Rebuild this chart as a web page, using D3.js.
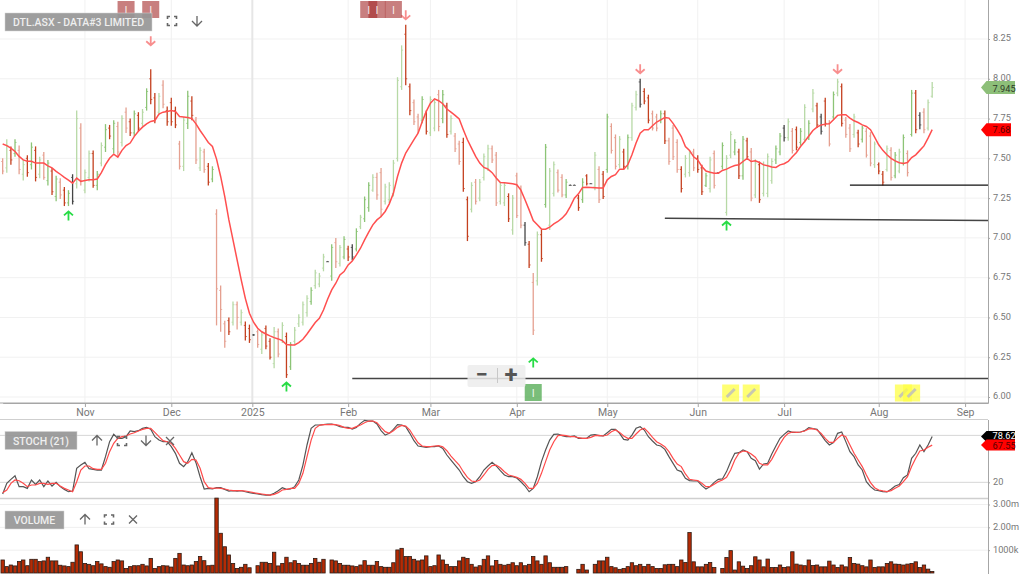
<!DOCTYPE html>
<html>
<head>
<meta charset="utf-8">
<script src="https://cdn.jsdelivr.net/npm/d3@7"></script>
<style>
  html, body { margin: 0; padding: 0; background: #fff; overflow: hidden; }
  svg { display: block; font-family: Roboto, Arial, sans-serif; }
</style>
</head>
<body>
<div id="chart"></div>
<script>
// one entry per trading day
const highs = [
  7.50,7.62,7.575,7.62,7.58,7.49,7.52,7.60,7.575,7.51,
  7.54,7.49,7.44,7.39,7.375,7.32,7.30,7.40,7.80,7.72,
  7.43,7.55,7.55,7.42,7.60,7.715,7.71,7.74,7.73,7.77,
  7.82,7.75,7.80,7.79,7.81,7.94,8.06,7.91,7.91,7.99,
  7.825,7.88,7.825,7.61,7.76,7.925,7.89,7.76,7.57,7.56,
  7.47,7.45,7.18,6.70,6.48,6.50,6.60,6.60,6.55,6.475,
  6.455,6.395,6.425,6.41,6.45,6.37,6.44,6.43,6.47,6.405,
  6.345,6.44,6.52,6.60,6.64,6.69,6.80,6.78,6.90,6.855,
  6.96,7.00,6.955,7.01,6.95,6.96,7.06,7.145,7.26,7.35,
  7.40,7.41,7.44,7.34,7.35,7.49,8.01,8.21,8.34,7.97,
  7.87,7.78,7.89,7.80,7.89,7.87,7.93,7.93,7.85,7.77,
  7.66,7.61,7.63,7.26,7.35,7.37,7.37,7.53,7.585,7.58,
  7.54,7.35,7.35,7.28,7.27,7.41,7.33,7.10,6.98,6.78,
  7.04,7.05,7.59,7.44,7.48,7.43,7.40,7.37,7.335,7.335,
  7.27,7.375,7.40,7.345,7.54,7.45,7.42,7.78,7.72,7.65,
  7.64,7.56,7.65,7.85,7.925,8.00,7.94,7.90,7.80,7.78,
  7.80,7.80,7.63,7.71,7.62,7.45,7.52,7.55,7.56,7.52,
  7.46,7.41,7.51,7.55,7.41,7.60,7.52,7.67,7.62,7.56,
  7.64,7.63,7.565,7.495,7.48,7.48,7.53,7.50,7.58,7.66,
  7.71,7.75,7.69,7.70,7.69,7.84,7.74,7.935,7.85,7.78,
  7.88,7.74,7.92,8.00,7.97,7.76,7.715,7.78,7.68,7.705,
  7.69,7.665,7.606,7.474,7.42,7.58,7.57,7.54,7.56,7.65,
  7.55,7.93,7.93,7.79,7.815,7.87,7.98,
];
const lows = [
  7.40,7.41,7.46,7.51,7.40,7.36,7.385,7.43,7.355,7.375,
  7.365,7.33,7.27,7.23,7.245,7.20,7.20,7.21,7.31,7.33,
  7.28,7.355,7.315,7.30,7.45,7.54,7.62,7.53,7.51,7.575,
  7.66,7.64,7.64,7.67,7.70,7.80,7.84,7.72,7.77,7.815,
  7.705,7.705,7.69,7.43,7.42,7.685,7.74,7.465,7.42,7.41,
  7.33,7.35,6.45,6.41,6.31,6.39,6.45,6.425,6.45,6.355,
  6.34,6.385,6.31,6.27,6.30,6.235,6.18,6.25,6.34,6.12,
  6.17,6.33,6.44,6.45,6.505,6.58,6.68,6.69,6.79,6.85,
  6.73,6.81,6.82,6.865,6.855,6.86,6.915,7.055,7.10,7.165,
  7.29,7.24,7.13,7.21,7.22,7.26,7.48,7.93,7.96,7.77,
  7.71,7.66,7.72,7.65,7.64,7.67,7.67,7.72,7.63,7.65,
  7.54,7.46,7.29,6.98,7.16,7.21,7.23,7.36,7.42,7.47,
  7.20,7.21,7.20,7.10,7.02,7.125,7.06,6.95,6.81,6.39,
  6.70,6.85,7.19,7.05,7.26,7.285,7.256,7.25,7.33,7.33,
  7.17,7.22,7.33,7.34,7.30,7.22,7.245,7.41,7.53,7.43,
  7.44,7.43,7.43,7.61,7.80,7.82,7.84,7.72,7.675,7.67,
  7.72,7.59,7.46,7.49,7.41,7.285,7.38,7.385,7.42,7.41,
  7.27,7.32,7.285,7.31,7.405,7.43,7.14,7.50,7.52,7.37,
  7.365,7.49,7.23,7.25,7.22,7.26,7.256,7.34,7.465,7.52,
  7.606,7.61,7.53,7.55,7.58,7.60,7.616,7.79,7.69,7.65,
  7.70,7.575,7.74,7.89,7.70,7.63,7.54,7.63,7.57,7.60,
  7.505,7.45,7.44,7.40,7.33,7.417,7.36,7.375,7.407,7.455,
  7.386,7.637,7.658,7.683,7.658,7.675,7.88,
];
const opens = [
  7.48,7.44,7.55,7.53,7.55,7.40,7.50,7.46,7.55,7.40,
  7.52,7.36,7.42,7.26,7.35,7.30,7.22,7.38,7.34,7.69,
  7.30,7.38,7.53,7.33,7.47,7.57,7.69,7.56,7.70,7.60,
  7.79,7.73,7.66,7.77,7.72,7.82,8.00,7.88,7.79,7.96,
  7.80,7.85,7.80,7.59,7.45,7.72,7.86,7.74,7.44,7.54,
  7.45,7.37,7.15,6.67,6.46,6.48,6.47,6.58,6.47,6.45,
  6.43,6.39,6.41,6.30,6.43,6.35,6.21,6.41,6.36,6.38,
  6.19,6.35,6.46,6.47,6.53,6.60,6.70,6.71,6.81,6.85,
  6.76,6.97,6.84,6.88,6.93,6.94,6.93,7.07,7.12,7.19,
  7.30,7.38,7.41,7.23,7.24,7.28,7.50,7.95,8.28,7.95,
  7.85,7.76,7.74,7.78,7.66,7.69,7.90,7.75,7.83,7.67,
  7.64,7.59,7.60,7.24,7.18,7.35,7.25,7.38,7.44,7.56,
  7.52,7.23,7.22,7.26,7.05,7.39,7.31,7.08,6.96,6.72,
  6.73,7.02,7.21,7.08,7.28,7.41,7.38,7.27,7.33,7.33,
  7.25,7.24,7.39,7.34,7.32,7.43,7.40,7.43,7.70,7.63,
  7.46,7.54,7.45,7.63,7.82,7.98,7.92,7.88,7.78,7.76,
  7.74,7.78,7.61,7.69,7.60,7.43,7.40,7.41,7.54,7.50,
  7.44,7.33,7.31,7.53,7.41,7.45,7.16,7.52,7.54,7.54,
  7.39,7.61,7.54,7.27,7.46,7.28,7.28,7.36,7.49,7.54,
  7.69,7.63,7.67,7.68,7.60,7.62,7.63,7.81,7.83,7.76,
  7.86,7.72,7.76,7.91,7.95,7.74,7.69,7.65,7.66,7.62,
  7.67,7.64,7.46,7.46,7.40,7.43,7.55,7.39,7.42,7.47,
  7.53,7.65,7.91,7.77,7.79,7.69,7.89,
];
const closes = [
  7.42,7.58,7.49,7.60,7.43,7.46,7.41,7.57,7.38,7.49,
  7.38,7.47,7.29,7.37,7.27,7.22,7.28,7.23,7.75,7.36,
  7.41,7.53,7.33,7.40,7.58,7.68,7.64,7.72,7.54,7.75,
  7.69,7.66,7.78,7.69,7.79,7.92,7.87,7.75,7.89,7.84,
  7.73,7.73,7.71,7.45,7.74,7.89,7.77,7.49,7.55,7.43,
  7.35,7.43,6.68,6.55,6.35,6.41,6.58,6.50,6.53,6.38,
  6.36,6.39,6.33,6.39,6.32,6.25,6.41,6.27,6.45,6.14,
  6.33,6.42,6.50,6.58,6.62,6.67,6.78,6.76,6.88,6.85,
  6.94,6.85,6.94,6.99,6.88,6.88,7.04,7.13,7.24,7.33,
  7.38,7.27,7.18,7.32,7.33,7.47,7.99,8.18,8.00,7.80,
  7.73,7.68,7.87,7.67,7.87,7.85,7.70,7.90,7.65,7.75,
  7.56,7.48,7.31,7.01,7.33,7.23,7.35,7.51,7.56,7.49,
  7.22,7.33,7.33,7.12,7.25,7.14,7.08,6.97,6.83,6.42,
  7.02,6.87,7.57,7.42,7.46,7.30,7.27,7.35,7.33,7.33,
  7.19,7.35,7.34,7.34,7.52,7.24,7.26,7.76,7.55,7.45,
  7.62,7.45,7.63,7.83,7.90,7.84,7.86,7.74,7.69,7.69,
  7.78,7.61,7.48,7.51,7.43,7.31,7.50,7.53,7.44,7.43,
  7.29,7.39,7.49,7.33,7.41,7.58,7.50,7.65,7.60,7.39,
  7.62,7.51,7.25,7.47,7.24,7.46,7.51,7.48,7.56,7.64,
  7.63,7.73,7.55,7.57,7.67,7.82,7.72,7.91,7.71,7.67,
  7.72,7.59,7.90,7.98,7.72,7.65,7.56,7.76,7.59,7.69,
  7.52,7.47,7.59,7.42,7.35,7.56,7.38,7.52,7.54,7.63,
  7.41,7.91,7.68,7.71,7.68,7.85,7.945,
];
// g/G up day light/strong, r/R down day light/strong, k unchanged
const barKinds = (
  'rgRGrgRGRg' + 'rGRGrRGkgr' + 'ggRGgGRGrg' + 'rRGRgGRRgr' + 'RRRrgGRrgr' +
  'RGrrrRgrgR' + 'RkrgRRgrgR' + 'GggggGgggk' + 'GrgGRkGgGG' + 'grrgggggRR' +
  'rrGRggrGRg' + 'rrRRgrgggr' + 'rggRgrrkRr' + 'gRGggrrGkk' + 'RGRkgrRGrr' +
  'gRGggkRRrr' + 'GRrrrRggrR' + 'RGgrkGggGR' + 'GRrgRgggGG' + 'kgrRGgGgRk' +
  'RrGgRrrgRG' + 'rrgRRgrGgG' + 'rGRkrgg'
).split('');
const ema = [
  7.59,7.58,7.564,7.543,7.512,7.49,7.482,7.482,7.47,7.47,
  7.47,7.453,7.44,7.418,7.40,7.38,7.363,7.344,7.376,7.355,
  7.36,7.365,7.365,7.37,7.41,7.46,7.50,7.526,7.508,7.55,
  7.58,7.596,7.638,7.67,7.696,7.717,7.732,7.738,7.778,7.79,
  7.795,7.80,7.795,7.763,7.76,7.757,7.75,7.717,7.675,7.638,
  7.60,7.575,7.495,7.386,7.26,7.113,6.987,6.862,6.736,6.62,
  6.526,6.47,6.432,6.41,6.396,6.384,6.373,6.365,6.354,6.33,
  6.327,6.327,6.342,6.363,6.396,6.432,6.468,6.495,6.547,6.614,
  6.673,6.715,6.767,6.788,6.83,6.855,6.893,6.935,6.987,7.036,
  7.082,7.113,7.134,7.166,7.214,7.28,7.386,7.47,7.533,7.575,
  7.617,7.658,7.73,7.795,7.847,7.874,7.862,7.843,7.81,7.79,
  7.77,7.747,7.68,7.617,7.564,7.512,7.47,7.443,7.432,7.41,
  7.376,7.348,7.346,7.344,7.34,7.334,7.30,7.24,7.176,7.109,
  7.082,7.055,7.055,7.067,7.088,7.103,7.124,7.151,7.197,7.25,
  7.277,7.317,7.319,7.317,7.315,7.313,7.313,7.365,7.386,7.397,
  7.432,7.432,7.46,7.522,7.596,7.658,7.68,7.68,7.705,7.728,
  7.742,7.757,7.753,7.72,7.68,7.637,7.574,7.55,7.51,7.49,
  7.449,7.42,7.413,7.407,7.407,7.424,7.432,7.445,7.455,7.459,
  7.48,7.50,7.48,7.484,7.474,7.459,7.453,7.445,7.443,7.459,
  7.466,7.48,7.51,7.537,7.574,7.606,7.64,7.675,7.696,7.71,
  7.715,7.717,7.742,7.77,7.774,7.774,7.753,7.736,7.725,7.71,
  7.70,7.68,7.633,7.585,7.55,7.522,7.50,7.484,7.472,7.467,
  7.474,7.505,7.522,7.55,7.578,7.627,7.68,
];
const stochK = [
  5.1,18.7,23.8,28.5,14.5,14.5,12.3,23,17.4,23,
  14.5,21.7,15.3,20,14.5,11,8,8.9,37.9,42.1,
  45.5,37.4,36.6,35.7,35.7,52.8,71.9,81.3,76.2,76.2,
  78.3,85.6,84.7,86,89,90.2,87.7,78.3,74,71.9,
  71.9,65.5,57,44.3,40,46.4,57.9,45.1,27.2,11.5,
  12.3,11.5,13.2,13.2,11,8.9,9.4,8.9,9.4,8,
  6.8,6,5.1,4.2,3.8,3.8,6,9.4,13.2,11,
  11.5,14.5,23,42.1,67.7,89,93.2,93.2,93.6,94.5,
  94.5,93.2,91.1,90.2,90.2,88.1,90.2,95.3,99.2,98.3,
  98.3,94.5,86,80.4,82.6,87.7,93.6,93.2,91.1,82.6,
  73.2,66.4,65.5,64.7,65.5,65.5,66.4,63.4,54.9,48.5,
  42.1,35.7,27.2,20.8,18.7,20.8,27.2,35.7,40.9,45.5,
  40.9,34.9,29.4,27.2,27.2,25.5,20.8,15.3,8,12.3,
  27.2,46.4,61.3,74,81.3,81.7,79.6,78.3,78.3,79.2,
  76.2,76.2,76.2,80.4,80.9,79.6,79.2,83.4,87.7,87.7,
  82.6,74.9,74,80.4,89,91.1,86.8,78.3,72.8,67.7,
  66.4,62.1,52.8,44.3,35.7,33.7,25.2,22.2,21.7,21.7,
  15.8,11.5,14.5,20,23.9,24.3,33.7,46.4,57.1,57.9,
  61.3,59.2,50.7,47.7,37,43.5,44.3,56.2,66.4,76.2,
  81.3,85.6,83.9,83.9,84.3,86,89.9,88.6,87.7,80.5,
  73.3,67.7,70.7,82.6,84.3,72,59.2,52.8,42.2,35.8,
  20.9,14.5,10.2,9.4,8.1,7.7,11.1,15.4,17.1,26,
  29.4,50.7,57.1,67.7,59.2,67.7,78.62,
];
const stochD = [
  6.8,10.2,18.7,23,22.1,18.7,14.5,16.6,16.6,18.7,
  18.7,17.4,18.7,18.7,15.3,12.3,10.2,8,20.8,35.7,
  40.9,40.9,37.4,36.6,36.6,44.3,59.2,69.8,76.2,78.3,
  79.2,81.7,83.4,85.6,87.7,89,89,83.8,78.3,73.2,
  71.9,69.8,63.4,54.9,46.4,44.3,49.4,48.5,37.9,20.8,
  13.2,12.3,12.8,12.3,11.5,10.2,9.4,9.4,9.4,8.9,
  8,6.8,6,5.1,4.2,3.8,4.7,6.8,10.2,11,
  12.3,12.3,18.7,31.5,52.8,74,89,92.8,93.6,93.6,
  94,93.6,92.4,90.2,89,89,91.1,93.2,96.2,98.3,
  98.3,96.2,90.2,84.7,82.6,86,90.2,92.8,91.9,86.8,
  78.3,70.6,66.4,65.5,65.5,66.4,66.8,65.5,60.4,53.6,
  47.7,42.1,33.6,26.4,21.7,20.8,23,29.4,36.6,41.3,
  42.1,38.7,33.6,29.4,28.1,26.4,23.8,18.7,12.3,12.3,
  18.7,31.5,46.4,61.3,71.9,79.6,80.4,79.6,78.3,78.3,
  77,76.2,76.2,77.5,79.6,80,79.2,80.4,84.7,86.8,
  83.8,79.2,76.2,76.2,81.7,86.8,89,83.8,77.5,71.9,
  68.9,65.5,59.2,50.6,43.4,40.1,30.7,23.9,23,22.2,
  18.8,14.5,14.5,17.5,20.9,23,26.4,35.8,48.6,57.1,
  60,59.2,56.2,52,44.3,42.2,42.2,49.4,59.2,69,
  77.5,82.6,84.3,83.9,84.3,85.6,88.2,88.6,86.9,82.6,
  76.2,71.1,71.1,76.2,80.5,78.4,67.7,57.1,48.6,40.1,
  29.4,19.6,13.2,10.2,9,8.1,9.4,12.4,15.4,20.9,
  27.3,40.1,50.7,60,61.3,64.7,67.55,
];
// millions of shares
const volumes = [
  .57,.28,.35,.31,.50,.57,.32,.60,.60,.50,
  .53,.69,.53,.53,.34,.31,.28,.47,1.23,.93,
  .42,.38,.32,.50,.40,.28,.25,.50,.57,.53,
  .20,.28,.32,.32,.38,.31,.64,.20,.28,.32,
  .31,.26,.64,.86,.35,.32,.35,.50,.72,.54,
  .32,.34,3.28,1.74,1.15,.79,.42,.20,.25,.38,
  .23,0,.32,.47,.47,.42,.91,.31,.42,.69,
  .45,.54,.42,.34,.34,.42,.64,.47,.60,0,
  .57,.53,.42,.34,.34,.31,.28,.35,.54,.34,
  .34,.50,.28,.25,.25,.45,1.01,1.08,.72,.72,
  .60,.53,.57,.75,.28,.32,.79,.57,.38,.28,
  .28,.53,.69,.64,.38,.26,.32,.60,.75,.31,
  .55,.38,.34,.38,.45,.32,.45,.32,.38,.72,
  .53,.38,.75,.45,.25,.25,.25,.28,0,0,
  .16,.38,.13,0,.38,.53,.53,.69,.28,.23,
  .16,.20,.28,.45,.32,.38,.28,.38,.28,.20,
  .20,.36,.38,.38,.28,.57,.46,1.77,.49,.27,
  .27,.38,.46,.24,0,.20,.68,.98,.13,.49,
  .30,.20,.32,.71,.57,.27,.61,.24,.24,.35,
  .24,.27,.93,.39,.35,.32,.57,.33,.35,.27,
  .27,.52,.35,.24,.35,.27,.68,.42,.39,.32,
  .27,.57,.24,.27,.27,.42,.49,.39,.38,.35,
  .39,.42,.49,.24,.35,.17,.07,
];

const monthLabels = ['Nov', 'Dec', '2025', 'Feb', 'Mar', 'Apr', 'May', 'Jun', 'Jul', 'Aug', 'Sep'];
const monthBars = [20, 41, 60.7, 84, 104, 125, 147, 169, 190, 213, 234];
const priceTicks = [6, 6.25, 6.5, 6.75, 7, 7.25, 7.5, 7.75, 8, 8.25];
const volumeTicks = [1, 2, 3];
const volumeTickLabels = ['1000k', '2.00m', '3.00m'];

// signal markers: bar index and the price the arrow sits at
const sellBars = [36, 98, 155, 203];
const sellPrices = [8.239, 8.402, 8.063, 8.063];
const buyBars = [16, 69, 129, 176];
const buyPrices = [7.138, 6.063, 6.214, 7.075];
const newsBars = [30, 36, 89, 91, 95];
const noteBars = [129];
const pencilBars = [177, 182, 219, 221];

// hand drawn support lines: start bar, price at start, price at right edge
const lineStarts = [85, 161, 206];
const lineFrom = [6.116, 7.123, 7.331];
const lineTo = [6.116, 7.11, 7.331];

const lastPrice = 7.945;
const lastEma = 7.68;
const lastK = 78.62;
const lastD = 67.55;

const size = { width: 1024, height: 574 };
const axisX = 988;

const svg = d3
  .select('#chart')
  .append('svg')
  .attr('width', size.width)
  .attr('height', size.height);

const x = d3.scaleLinear().domain([0, 239.57]).range([2.67, axisX]);
const y = d3.scaleLinear().domain([6, 8.25]).range([397, 39]);
const yStoch = d3.scaleLinear().domain([0, 100]).range([498, 419.7]);
const yVol = d3.scaleLinear().domain([0, 3]).range([573, 504.5]);
const barColor = d3
  .scaleOrdinal()
  .domain(['g', 'G', 'r', 'R', 'k'])
  .range(['#b7d9a6', '#8cc476', '#e5a090', '#c4401f', '#454545']);

const bars = highs.map((h, i) => ({
  i,
  high: h,
  low: lows[i],
  open: opens[i],
  close: closes[i],
  kind: barKinds[i],
  volume: volumes[i],
}));

// grid
const grid = svg.append('g');
priceTicks.forEach((t) => {
  grid
    .append('line')
    .attr('x1', 0)
    .attr('x2', axisX)
    .attr('y1', y(t))
    .attr('y2', y(t))
    .attr('stroke', '#f1f1f1');
});
monthBars.forEach((b, i) => {
  grid
    .append('line')
    .attr('x1', x(b))
    .attr('x2', x(b))
    .attr('y1', 0)
    .attr('y2', 403)
    .attr('stroke', monthLabels[i] === '2025' ? '#e6e6e6' : '#f1f1f1')
    .attr('stroke-width', monthLabels[i] === '2025' ? 2 : 1);
});
volumeTicks.forEach((t) => {
  grid
    .append('line')
    .attr('x1', 0)
    .attr('x2', axisX)
    .attr('y1', yVol(t))
    .attr('y2', yVol(t))
    .attr('stroke', '#efefef');
});

// axes
const styleAxis = (g) => {
  g.selectAll('.domain').attr('stroke', '#a6a6a6');
  g.selectAll('.tick line').attr('stroke', '#a6a6a6');
  g.selectAll('.tick text')
    .attr('fill', '#777')
    .attr('font-family', 'Roboto, Arial, sans-serif');
};
const styleRightLabels = (g) => {
  g.selectAll('.tick text').attr('font-size', 9.2).attr('y', -1);
};

svg
  .append('g')
  .attr('transform', 'translate(0,403)')
  .call(
    d3
      .axisBottom(x)
      .tickValues(monthBars)
      .tickSizeInner(4)
      .tickSizeOuter(0)
      .tickPadding(1.5)
      .tickFormat((d) => monthLabels[monthBars.indexOf(d)]),
  )
  .call(styleAxis)
  .call((g) => g.selectAll('.tick text').attr('font-size', 10.5));

svg
  .append('line')
  .attr('x1', 0)
  .attr('x2', axisX)
  .attr('y1', 403)
  .attr('y2', 403)
  .attr('stroke', '#a6a6a6');

svg
  .append('g')
  .attr('transform', `translate(${axisX},0)`)
  .call(
    d3
      .axisRight(y)
      .tickValues(priceTicks)
      .tickSize(2)
      .tickPadding(3)
      .tickFormat(d3.format('.2f')),
  )
  .call(styleAxis)
  .call(styleRightLabels)
  .call((g) => g.select('.domain').attr('d', 'M0.5,0V403.5'));

svg
  .append('g')
  .attr('transform', `translate(${axisX},0)`)
  .call(d3.axisRight(yStoch).tickValues([20]).tickSize(2).tickPadding(3))
  .call(styleAxis)
  .call(styleRightLabels)
  .call((g) => g.select('.domain').attr('d', 'M0.5,420V498.5'));

svg
  .append('g')
  .attr('transform', `translate(${axisX},0)`)
  .call(
    d3
      .axisRight(yVol)
      .tickValues(volumeTicks)
      .tickSize(2)
      .tickPadding(3)
      .tickFormat((d) => volumeTickLabels[volumeTicks.indexOf(d)]),
  )
  .call(styleAxis)
  .call(styleRightLabels)
  .call((g) => g.select('.domain').attr('d', 'M0.5,498V574'));

// panel separators
[419.5, 498.5].forEach((py, i) => {
  svg
    .append('line')
    .attr('x1', 0)
    .attr('x2', axisX)
    .attr('y1', py)
    .attr('y2', py)
    .attr('stroke', '#cfcfcf')
    .attr('stroke-width', i === 1 ? 1.5 : 1);
});
[20, 80].forEach((t) => {
  svg
    .append('line')
    .attr('x1', 0)
    .attr('x2', axisX)
    .attr('y1', yStoch(t))
    .attr('y2', yStoch(t))
    .attr('stroke', '#d6d6d6');
});

// price bars
const barG = svg.append('g');
barG
  .selectAll('.hl')
  .data(bars)
  .enter()
  .append('line')
  .attr('x1', (d) => x(d.i))
  .attr('x2', (d) => x(d.i))
  .attr('y1', (d) => y(d.high))
  .attr('y2', (d) => y(d.low))
  .attr('stroke', (d) => barColor(d.kind))
  .attr('stroke-width', 1.3);
barG
  .selectAll('.open')
  .data(bars)
  .enter()
  .append('line')
  .attr('x1', (d) => x(d.i) - 1.5)
  .attr('x2', (d) => x(d.i))
  .attr('y1', (d) => y(d.open))
  .attr('y2', (d) => y(d.open))
  .attr('stroke', (d) => barColor(d.kind))
  .attr('stroke-width', 0.8);
barG
  .selectAll('.close')
  .data(bars)
  .enter()
  .append('line')
  .attr('x1', (d) => x(d.i))
  .attr('x2', (d) => x(d.i) + 1.5)
  .attr('y1', (d) => y(d.close))
  .attr('y2', (d) => y(d.close))
  .attr('stroke', (d) => barColor(d.kind))
  .attr('stroke-width', 0.8);

const line = d3
  .line()
  .x((d, i) => x(i))
  .y((d) => d);

svg
  .append('path')
  .attr('d', line(ema.map((v) => y(v))))
  .attr('fill', 'none')
  .attr('stroke', '#ff4f4f')
  .attr('stroke-width', 1.5);

// support lines
lineStarts.forEach((b, i) => {
  svg
    .append('line')
    .attr('x1', x(b))
    .attr('x2', axisX)
    .attr('y1', y(lineFrom[i]))
    .attr('y2', y(lineTo[i]))
    .attr('stroke', i === 2 ? '#111' : '#444')
    .attr('stroke-width', i === 2 ? 1.2 : 1.5);
});

// signal arrows
const arrow = (cx, cy, dir, color) => {
  svg
    .append('path')
    .attr('transform', `translate(${cx},${cy})`)
    .attr('d', `M0,${-4.5 * dir}V${4.5 * dir}M-4.5,${0.5 * dir}L0,${4.5 * dir}L4.5,${0.5 * dir}`)
    .attr('fill', 'none')
    .attr('stroke', color)
    .attr('stroke-width', 1.8);
};
sellBars.forEach((b, i) => arrow(x(b), y(sellPrices[i]), 1, '#f88e8e'));
buyBars.forEach((b, i) => arrow(x(b), y(buyPrices[i]), -1, '#27dc45'));

// news boxes along the top and bottom of the price panel
const flagBox = (cx, top, fill, op, w) => {
  svg
    .append('rect')
    .attr('x', cx - w / 2)
    .attr('y', top)
    .attr('width', w)
    .attr('height', 17)
    .attr('fill', fill)
    .attr('fill-opacity', op);
};
const flagLetter = (cx, top) => {
  svg
    .append('text')
    .attr('x', cx)
    .attr('y', top + 13)
    .attr('text-anchor', 'middle')
    .attr('fill', '#fff')
    .attr('fill-opacity', 0.85)
    .attr('font-size', 11)
    .text('I');
};
newsBars.forEach((b) => flagBox(x(b), 1, '#a32a2a', 0.6, 17));
newsBars.forEach((b) => flagLetter(x(b), 1));
noteBars.forEach((b) => {
  flagBox(x(b), 384, '#4ea84e', 0.75, 17);
  flagLetter(x(b), 384);
});
pencilBars.forEach((b) => {
  flagBox(x(b), 384.5, '#ffff44', 0.75, 17);
  svg
    .append('path')
    .attr('transform', `translate(${x(b)},393)`)
    .attr('d', 'M-4,4L4,-4')
    .attr('stroke', '#c9c9b0')
    .attr('stroke-width', 3);
});

// zoom control
svg
  .append('rect')
  .attr('x', 467.5)
  .attr('y', 365)
  .attr('width', 58)
  .attr('height', 22)
  .attr('rx', 2)
  .attr('fill', '#ececec')
  .attr('fill-opacity', 0.85);
svg
  .append('line')
  .attr('x1', 497.5)
  .attr('x2', 497.5)
  .attr('y1', 368)
  .attr('y2', 383)
  .attr('stroke', '#c8c8c8');
svg
  .append('text')
  .attr('x', 481.5)
  .attr('y', 382)
  .attr('text-anchor', 'middle')
  .attr('font-size', 22)
  .attr('font-weight', 'bold')
  .attr('fill', '#555')
  .text('−');
svg
  .append('text')
  .attr('x', 511)
  .attr('y', 383)
  .attr('text-anchor', 'middle')
  .attr('font-size', 24)
  .attr('font-weight', 'bold')
  .attr('fill', '#555')
  .text('+');

// stochastic
svg
  .append('path')
  .attr('d', line(stochK.map((v) => yStoch(v))))
  .attr('fill', 'none')
  .attr('stroke', '#555')
  .attr('stroke-width', 1.2);
svg
  .append('path')
  .attr('d', line(stochD.map((v) => yStoch(v))))
  .attr('fill', 'none')
  .attr('stroke', '#ff4a4a')
  .attr('stroke-width', 1.2);

// volume
svg
  .append('g')
  .selectAll('rect')
  .data(bars.filter((d) => d.volume > 0))
  .enter()
  .append('rect')
  .attr('x', (d) => x(d.i) - 1.7)
  .attr('width', 3.4)
  .attr('y', (d) => yVol(d.volume))
  .attr('height', (d) => yVol(0) - yVol(d.volume))
  .attr('fill', '#b52b05')
  .attr('stroke', '#2c1a12')
  .attr('stroke-width', 0.8);

// panel title chips and their icons
const chip = (text, bx, by, w, h) => {
  svg
    .append('rect')
    .attr('x', bx)
    .attr('y', by)
    .attr('width', w)
    .attr('height', h)
    .attr('fill', '#969696')
    .attr('fill-opacity', 0.92)
    .attr('stroke', '#d4d4d4')
    .attr('stroke-width', 0.5);
  svg
    .append('text')
    .attr('x', bx + w / 2)
    .attr('y', by + h / 2 + 4)
    .attr('text-anchor', 'middle')
    .attr('font-size', 10.5)
    .attr('font-weight', 500)
    .attr('fill', '#efefef')
    .text(text);
};
const icon = (d, cx, cy, width = 1.3) => {
  svg
    .append('path')
    .attr('transform', `translate(${cx},${cy})`)
    .attr('d', d)
    .attr('fill', 'none')
    .attr('stroke', '#666')
    .attr('stroke-width', width);
};
const upIcon = 'M0,5V-5M-5,0L0,-5L5,0';
const downIcon = 'M0,-5V5M-5,0L0,5L5,0';
const expandIcon = 'M-4.5,-2V-4.5H-2M2,-4.5H4.5V-2M4.5,2V4.5H2M-2,4.5H-4.5V2';
const closeIcon = 'M-4,-4L4,4M4,-4L-4,4';

chip('DTL.ASX - DATA#3 LIMITED', 5, 13, 147, 18);
icon(expandIcon, 172, 21, 1.6);
icon(downIcon, 197, 21);

chip('STOCH (21)', 5, 431.5, 72, 18);
icon(upIcon, 97, 440.5);
icon(expandIcon, 122, 441, 1.6);
icon(downIcon, 146, 440.5);
icon(closeIcon, 170, 441);

chip('VOLUME', 5, 511, 59, 18);
icon(upIcon, 85, 519.5);
icon(expandIcon, 109, 519.5, 1.6);
icon(closeIcon, 133, 519.5);

// last value flags on the right axis
const valueFlag = (text, cy, fill, color, w, h, base) => {
  svg
    .append('path')
    .attr('transform', `translate(981,${cy})`)
    .attr('d', `M0,0L5.5,${-h / 2}H${w}V${h / 2}H5.5Z`)
    .attr('fill', fill);
  svg
    .append('text')
    .attr('x', 992.5)
    .attr('y', cy + base)
    .attr('font-size', 9.2)
    .attr('fill', color)
    .text(text);
};
valueFlag(lastPrice.toFixed(3), y(lastPrice), '#8dbf79', '#2f3a2a', 34, 13, 4);
valueFlag(lastEma.toFixed(2), y(lastEma), '#ff0000', '#5a0000', 30, 13, 3.5);
valueFlag(lastK.toFixed(2), yStoch(lastK), '#000', '#fff', 34, 11, 2.5);
valueFlag(lastD.toFixed(2), yStoch(lastD), '#ff0000', '#5a0000', 34, 11, 4);
</script>
</body>
</html>
